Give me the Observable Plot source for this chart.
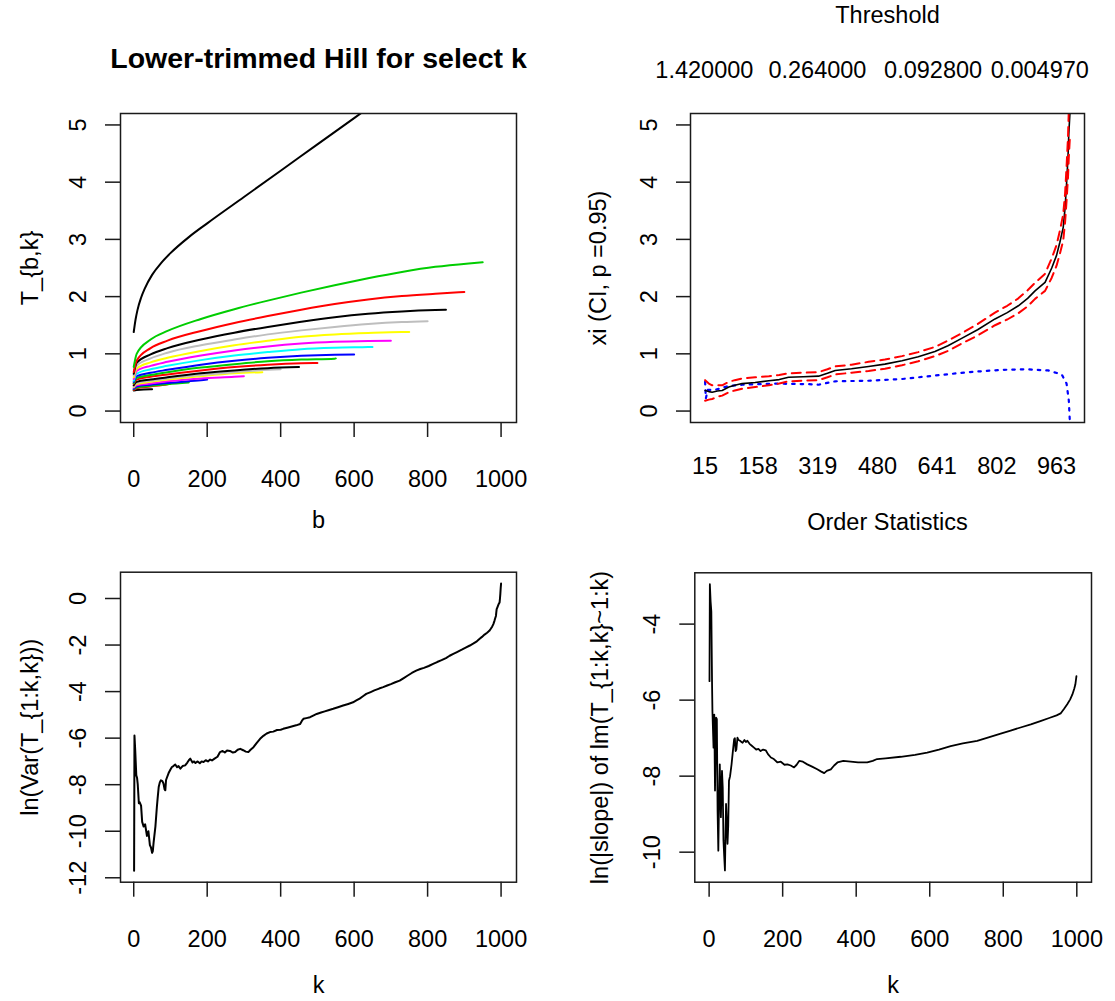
<!DOCTYPE html>
<html><head><meta charset="utf-8">
<script src="https://cdn.jsdelivr.net/npm/d3@7"></script>
<script src="https://cdn.jsdelivr.net/npm/@observablehq/plot@0.6"></script>
<style>
body{margin:0;background:#fff;}
#root{position:relative;width:1115px;height:1001px;overflow:hidden;background:#fff;}
#root svg{position:absolute;}
</style></head><body><div id="root"></div>
<script>
// ---------- Panel 1: lower-trimmed Hill curves ----------
const bGrid = [0, 8, 46, 92, 183, 274, 365, 456, 547, 638, 730, 821, 912];
const hillK = [950, 900, 850, 800, 750, 700, 650, 600, 550, 500, 450, 400, 350, 300, 200, 150, 100, 50];
const hillColors = ["#00CD00", "#FF0000", "#000000", "#BEBEBE", "#FFFF00", "#FF00FF", "#00FFFF", "#0000FF", "#00CD00",
  "#FF0000", "#000000", "#BEBEBE", "#FFFF00", "#FF00FF", "#0000FF", "#00CD00", "#FF0000", "#000000"];
const hillValues = [
  [0.77, 1.00, 1.25, 1.40, 1.61, 1.78, 1.93, 2.07, 2.20, 2.32, 2.43, 2.52, 2.58, 2.60],
  [0.68, 0.88, 1.10, 1.23, 1.40, 1.54, 1.66, 1.77, 1.87, 1.95, 2.01, 2.05, 2.08],
  [0.65, 0.84, 0.99, 1.10, 1.25, 1.37, 1.47, 1.56, 1.64, 1.70, 1.74, 1.765, 1.77],
  [0.62, 0.79, 0.92, 1.02, 1.15, 1.25, 1.34, 1.41, 1.47, 1.52, 1.555, 1.57],
  [0.59, 0.74, 0.85, 0.93, 1.05, 1.15, 1.23, 1.30, 1.34, 1.365, 1.38, 1.38],
  [0.56, 0.70, 0.79, 0.86, 0.97, 1.06, 1.13, 1.18, 1.21, 1.225, 1.23],
  [0.53, 0.65, 0.73, 0.79, 0.89, 0.97, 1.03, 1.08, 1.105, 1.118, 1.12],
  [0.51, 0.61, 0.67, 0.72, 0.81, 0.88, 0.93, 0.965, 0.985, 0.99],
  [0.49, 0.58, 0.63, 0.68, 0.76, 0.82, 0.87, 0.90, 0.915, 0.92],
  [0.48, 0.55, 0.60, 0.64, 0.71, 0.77, 0.81, 0.835, 0.84],
  [0.45, 0.51, 0.55, 0.59, 0.66, 0.71, 0.75, 0.77],
  [0.43, 0.49, 0.53, 0.57, 0.63, 0.68, 0.72, 0.73],
  [0.42, 0.47, 0.51, 0.55, 0.61, 0.66, 0.68],
  [0.41, 0.45, 0.48, 0.52, 0.57, 0.60, 0.61],
  [0.39, 0.43, 0.46, 0.49, 0.54, 0.55],
  [0.38, 0.41, 0.44, 0.47, 0.50],
  [0.37, 0.40, 0.43, 0.47, 0.48],
  [0.36, 0.37, 0.38, 0.38]
];
const fullB = [0, 5, 10, 20, 30, 50, 75, 100, 150, 200, 300, 400, 500, 600, 700];
const fullT = [1.38, 1.60, 1.76, 1.98, 2.14, 2.38, 2.59, 2.76, 3.04, 3.28, 3.74, 4.20, 4.66, 5.12, 5.58];
const xTicks1000 = [0, 200, 400, 600, 800, 1000];
const yTicksT = [0, 1, 2, 3, 4, 5];

// ---------- Panel 2: xi with CI ----------
const orderK = [15, 25, 34, 48, 61, 79, 95, 115, 150, 187, 215, 240, 280, 321, 345, 366, 410, 456, 500, 546, 590, 635, 670, 707, 750, 797, 830, 860, 885, 905, 932, 950, 963, 972, 981, 986, 990, 994, 996, 999];
const xiEst   = [0.36, 0.34, 0.33, 0.35, 0.36, 0.42, 0.45, 0.48, 0.50, 0.53, 0.55, 0.59, 0.60, 0.61, 0.66, 0.71, 0.74, 0.78, 0.82, 0.88, 0.95, 1.04, 1.14, 1.27, 1.42, 1.61, 1.72, 1.84, 1.97, 2.10, 2.25, 2.50, 2.72, 2.95, 3.21, 3.55, 3.97, 4.45, 4.84, 5.19];
const xiUpper = [0.54, 0.48, 0.45, 0.45, 0.45, 0.51, 0.54, 0.57, 0.59, 0.61, 0.63, 0.66, 0.67, 0.68, 0.73, 0.78, 0.81, 0.86, 0.90, 0.96, 1.03, 1.12, 1.23, 1.36, 1.52, 1.72, 1.84, 1.97, 2.11, 2.24, 2.40, 2.67, 2.90, 3.15, 3.44, 3.80, 4.27, 4.80, 5.25, 5.60];
const xiLower = [0.18, 0.20, 0.21, 0.25, 0.27, 0.33, 0.36, 0.39, 0.42, 0.45, 0.48, 0.52, 0.53, 0.54, 0.59, 0.64, 0.67, 0.70, 0.74, 0.80, 0.87, 0.96, 1.05, 1.18, 1.32, 1.50, 1.60, 1.71, 1.83, 1.96, 2.10, 2.33, 2.54, 2.75, 2.98, 3.30, 3.67, 4.10, 4.43, 4.78];
const blueK = [15, 17, 22, 42, 79, 115, 204, 294, 321, 366, 456, 546, 635, 725, 815, 880, 940, 977, 990, 996, 999];
const blueV = [0.51, 0.22, 0.37, 0.37, 0.44, 0.46, 0.48, 0.47, 0.46, 0.52, 0.53, 0.56, 0.62, 0.68, 0.72, 0.73, 0.71, 0.64, 0.48, 0.19, -0.2];
const orderTicks = [15, 158, 319, 480, 641, 802, 963];
const thresholdPos = [13, 318, 630, 918];
const thresholdLabels = ["1.420000", "0.264000", "0.092800", "0.004970"];

// ---------- Panel 3: ln(Var) ----------
const varCurve = [[1,-11.7],[2,-5.89],[4,-6.5],[7,-7.6],[9,-7.7],[11,-8.0],[14,-8.8],[16,-8.75],[20,-8.9],[23,-9.6],[27,-9.8],[31,-9.7],[36,-10.2],[40,-10.0],[44,-10.6],[47,-10.7],[50,-10.93],[52,-10.85],[54,-10.5],[59,-9.8],[63,-8.96],[65,-8.6],[68,-8.1],[71,-7.9],[74,-7.81],[78,-7.85],[81,-7.95],[84,-8.2],[86,-8.24],[88,-7.8],[91,-7.67],[95,-7.5],[100,-7.35],[104,-7.24],[108,-7.2],[113,-7.13],[118,-7.25],[122,-7.2],[127,-7.31],[133,-7.2],[140,-7.17],[146,-7.05],[150,-6.95],[154,-6.88],[160,-7.05],[164,-7.0],[168,-7.07],[174,-7.0],[180,-7.08],[185,-7.0],[190,-7.03],[196,-6.95],[202,-7.0],[208,-6.92],[213,-6.96],[220,-6.88],[228,-6.8],[235,-6.6],[242,-6.55],[248,-6.62],[254,-6.53],[262,-6.55],[270,-6.62],[276,-6.6],[283,-6.5],[290,-6.46],[298,-6.52],[305,-6.58],[312,-6.6],[318,-6.5],[326,-6.39],[335,-6.2],[344,-6.03],[353,-5.9],[362,-5.8],[371,-5.74],[380,-5.72],[390,-5.65],[400,-5.64],[407,-5.6],[418,-5.55],[430,-5.5],[442,-5.45],[453,-5.39],[458,-5.25],[462,-5.17],[470,-5.14],[480,-5.1],[490,-5.02],[498,-4.96],[510,-4.9],[520,-4.85],[530,-4.8],[543,-4.74],[556,-4.67],[570,-4.6],[584,-4.53],[597,-4.46],[606,-4.38],[615,-4.3],[624,-4.2],[633,-4.1],[645,-4.02],[655,-3.95],[668,-3.87],[679,-3.81],[690,-3.74],[700,-3.68],[712,-3.6],[724,-3.53],[735,-3.42],[745,-3.32],[757,-3.2],[769,-3.1],[780,-3.03],[790,-2.98],[803,-2.9],[815,-2.81],[826,-2.73],[838,-2.65],[850,-2.56],[860,-2.46],[870,-2.38],[880,-2.3],[893,-2.2],[905,-2.1],[915,-2.02],[925,-1.93],[934,-1.84],[941,-1.74],[948,-1.65],[955,-1.55],[962,-1.47],[968,-1.39],[972,-1.3],[976,-1.2],[979,-1.1],[982,-0.96],[984,-0.85],[986,-0.75],[987,-0.6],[988,-0.46],[990,-0.38],[992,-0.3],[994,-0.22],[996,-0.17],[997,0.0],[998,0.2],[999,0.45],[1000,0.64]];
const yTicksVar = [-12, -10, -8, -6, -4, -2, 0];

// ---------- Panel 4: ln(|slope|) ----------
const slopeCurve = [[1,-5.5],[2,-2.95],[4,-3.4],[6,-3.67],[8,-5.6],[9,-6.29],[12,-7.25],[14,-6.38],[16,-8.38],[18,-7.0],[19,-6.46],[21,-6.5],[23,-8.91],[25,-9.96],[27,-8.6],[29,-7.69],[32,-9.08],[35,-7.86],[37,-8.3],[39,-9.69],[41,-10.1],[43,-10.48],[46,-8.73],[48,-9.2],[50,-9.78],[52,-9.3],[54,-8.12],[57,-8.0],[61,-7.69],[64,-7.4],[68,-7.03],[70,-7.0],[72,-7.34],[74,-7.3],[77,-6.99],[80,-7.05],[84,-7.07],[88,-7.1],[91,-7.12],[96,-7.05],[100,-7.1],[104,-7.07],[110,-7.15],[116,-7.2],[122,-7.25],[128,-7.3],[134,-7.28],[140,-7.34],[147,-7.3],[154,-7.32],[160,-7.42],[168,-7.51],[176,-7.55],[186,-7.64],[195,-7.62],[205,-7.7],[213,-7.69],[222,-7.72],[231,-7.77],[238,-7.7],[245,-7.6],[255,-7.62],[267,-7.69],[280,-7.75],[294,-7.82],[305,-7.88],[313,-7.92],[320,-7.86],[331,-7.82],[340,-7.72],[349,-7.64],[365,-7.6],[385,-7.62],[405,-7.64],[430,-7.64],[445,-7.6],[457,-7.55],[480,-7.53],[521,-7.49],[560,-7.44],[593,-7.38],[625,-7.3],[657,-7.21],[690,-7.14],[729,-7.07],[760,-6.98],[793,-6.88],[820,-6.8],[847,-6.72],[875,-6.64],[901,-6.55],[925,-6.47],[945,-6.4],[956,-6.35],[966,-6.22],[974,-6.11],[982,-5.98],[988,-5.85],[993,-5.7],[996,-5.59],[999,-5.37]];
const yTicksSlope = [-10, -8, -6, -4];

// ---------- drawing ----------
const FONT = "'Liberation Sans', Arial, Helvetica, sans-serif";
const FS = 23.5;
const root = document.getElementById("root");
const INK = "#1a1a1a";

function panel({left, top, width, height, box, xDomain, yDomain, marks}) {
  const svg = Plot.plot({
    width, height,
    marginLeft: box.l - left, marginRight: left + width - box.r,
    marginTop: box.t - top, marginBottom: top + height - box.b,
    x: {domain: xDomain}, y: {domain: yDomain},
    style: {fontFamily: FONT, fontSize: FS + "px", background: "transparent", overflow: "visible", color: "#000"},
    marks
  });
  svg.style.left = left + "px";
  svg.style.top = top + "px";
  root.append(svg);
}
const fmt = d => String(d);
const yAxis = (ticks, size = 15) => Plot.axisY({ticks, tickSize: size, tickRotate: -90, tickPadding: 20, tickFormat: fmt, label: null, stroke: INK, strokeWidth: 1.5, fontSize: FS});
const xAxis = (ticks) => Plot.axisX({ticks, tickSize: 15, tickPadding: 33, tickFormat: fmt, label: null, stroke: INK, strokeWidth: 1.5, fontSize: FS});
const yLabel = (s, dx) => Plot.text([s], {frameAnchor: "left", dx, rotate: -90, textAnchor: "middle", lineAnchor: "middle", fontSize: FS});
const xLabel = (s, dy) => Plot.text([s], {frameAnchor: "bottom", dy, textAnchor: "middle", lineAnchor: "middle", fontSize: FS});

// Panel 1
{
  const lineMarks = hillK.map((k, i) => {
    const bs = bGrid.filter(b => b < k).concat([k]);
    const rows = hillValues[i].map((t, j) => ({b: bs[j], t}));
    return Plot.line(rows, {x: "b", y: "t", stroke: hillColors[i], strokeWidth: 2, curve: "monotone-x"});
  });
  const fullRows = fullB.map((b, i) => ({b, t: fullT[i]}));
  panel({
    left: 0, top: 0, width: 557, height: 540,
    box: {l: 120, r: 516, t: 113, b: 422},
    xDomain: [-36, 1042], yDomain: [-0.2, 5.2],
    marks: [
      Plot.line(fullRows, {x: "b", y: "t", stroke: "#000", strokeWidth: 2, curve: "monotone-x", clip: true}),
      ...lineMarks.reverse(),
      Plot.frame({stroke: INK, strokeWidth: 1.5}),
      yAxis(yTicksT), xAxis(xTicks1000),
      Plot.text(["Lower-trimmed Hill for select k"], {frameAnchor: "top", dy: -55, textAnchor: "middle", lineAnchor: "middle", fontWeight: "bold", fontSize: 28.5}),
      yLabel("T_{b,k}", -90),
      xLabel("b", 98)
    ]
  });
}

// Panel 2
{
  const est = orderK.map((k, i) => ({k, v: xiEst[i]}));
  const up = orderK.map((k, i) => ({k, v: xiUpper[i]}));
  const lo = orderK.map((k, i) => ({k, v: xiLower[i]}));
  const bl = blueK.map((k, i) => ({k, v: blueV[i]}));
  panel({
    left: 557, top: 0, width: 558, height: 540,
    box: {l: 690, r: 1084, t: 113, b: 422},
    xDomain: [-24.4, 1038.4], yDomain: [-0.2, 5.2],
    marks: [
      Plot.line(bl, {x: "k", y: "v", stroke: "#0000FF", strokeWidth: 2.2, strokeDasharray: "2.5,6", clip: true}),
      Plot.line(est, {x: "k", y: "v", stroke: "#000", strokeWidth: 1.6, clip: true}),
      Plot.line(up, {x: "k", y: "v", stroke: "#FF0000", strokeWidth: 2, strokeDasharray: "9,6", clip: true}),
      Plot.line(lo, {x: "k", y: "v", stroke: "#FF0000", strokeWidth: 2, strokeDasharray: "9,6", clip: true}),
      Plot.frame({stroke: INK, strokeWidth: 1.5}),
      yAxis(yTicksT, 14),
      Plot.axisX({ticks: orderTicks, tickSize: 0, tickPadding: 35, tickFormat: fmt, label: null, fontSize: FS}),
      Plot.axisX({anchor: "top", ticks: thresholdPos, tickSize: 0, tickPadding: 36, tickFormat: d => thresholdLabels[thresholdPos.indexOf(d)], label: null, fontSize: FS}),
      Plot.text(["Threshold"], {frameAnchor: "top", dy: -98, textAnchor: "middle", lineAnchor: "middle", fontSize: FS}),
      yLabel("xi (CI, p =0.95)", -92),
      xLabel("Order Statistics", 100)
    ]
  });
}

// Panel 3
{
  const rows = varCurve.map(([k, v]) => ({k, v}));
  panel({
    left: 0, top: 500, width: 557, height: 501,
    box: {l: 120, r: 516, t: 571.7, b: 881.7},
    xDomain: [-36, 1042], yDomain: [-12.19, 1.13],
    marks: [
      Plot.line(rows, {x: "k", y: "v", stroke: "#000", strokeWidth: 2}),
      Plot.frame({stroke: INK, strokeWidth: 1.5}),
      yAxis(yTicksVar), xAxis(xTicks1000),
      yLabel("ln(Var(T_{1:k,k}))", -90),
      xLabel("k", 103)
    ]
  });
}

// Panel 4
{
  const rows = slopeCurve.map(([k, v]) => ({k, v}));
  panel({
    left: 557, top: 500, width: 558, height: 501,
    box: {l: 694.3, r: 1091, t: 572.3, b: 881.7},
    xDomain: [-38.96, 1039.96], yDomain: [-10.79, -2.65],
    marks: [
      Plot.line(rows, {x: "k", y: "v", stroke: "#000", strokeWidth: 1.8}),
      Plot.frame({stroke: INK, strokeWidth: 1.5}),
      yAxis(yTicksSlope), xAxis(xTicks1000),
      yLabel("ln(|slope|) of lm(T_{1:k,k}~1:k)", -94),
      xLabel("k", 103)
    ]
  });
}
</script></body></html>
